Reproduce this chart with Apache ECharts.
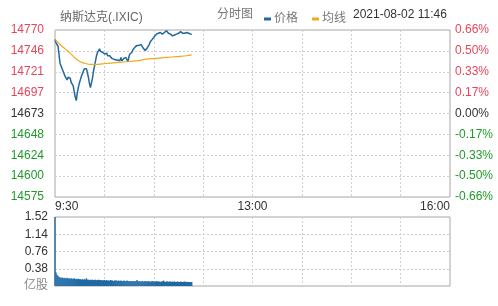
<!DOCTYPE html>
<html><head><meta charset="utf-8">
<script src="https://cdn.jsdelivr.net/npm/echarts@6/dist/echarts.min.js"></script>
<style>html,body{margin:0;padding:0;background:#fff;}#c{width:498px;height:306px;}</style>
</head><body><div id="c"></div>
<script>
// ---- data ----
const basePrice = 14673;
const xTickLabels = ['9:30', '13:00', '16:00'];
const xTickMinutes = [0, 195, 390];
const priceTickLabels = ['14575', '14600', '14624', '14648', '14673', '14697', '14721', '14746', '14770'];
const pctTickLabels = ['-0.66%', '-0.50%', '-0.33%', '-0.17%', '0.00%', '0.17%', '0.33%', '0.50%', '0.66%'];
const volTickLabels = ['亿股', '0.38', '0.76', '1.14', '1.52'];
// price per minute from 9:30
const priceValues = [
14759,14755,14753,14751,14749,14731,14728,14726,14722,14720,
14716,14714,14712,14715,14716,14714,14709,14707,14705,14698,
14692,14688,14697,14703,14708,14712,14716,14718,14722,14725,
14726,14725,14723,14715,14708,14703,14705,14714,14722,14728,
14734,14740,14744,14746,14748,14745,14746,14744,14743,14742,
14741,14743,14740,14738,14740,14740,14737,14739,14736,14738,
14735,14737,14735,14736,14734,14738,14734,14736,14737,14735,
14738,14738,14733,14739,14742,14743,14744,14747,14749,14750,
14751,14752,14753,14752,14751,14753,14752,14749,14747,14746,
14748,14749,14750,14753,14756,14757,14759,14761,14762,14764,
14765,14764,14766,14767,14767,14766,14765,14765,14767,14768,
14769,14767,14766,14765,14765,14764,14763,14763,14764,14765,
14765,14766,14766,14767,14768,14769,14766,14765,14766,14767,
14767,14766,14766,14766,14765,14765
];
const avgMinutes = [0, 5, 10, 15, 20, 25, 30, 35, 40, 50, 60, 70, 80, 90, 100, 110, 120, 130, 135];
const avgValues = [14759, 14753, 14748, 14743, 14737, 14733, 14731, 14730, 14730, 14731, 14732, 14733, 14734, 14736, 14737, 14738, 14739, 14740, 14741];
// volume per minute (亿股)
const volumeValues = [
1.52,0.30,0.25,0.22,0.20,0.19,0.18,0.19,0.17,0.18,
0.17,0.17,0.18,0.16,0.17,0.16,0.17,0.16,0.16,0.17,
0.15,0.16,0.15,0.16,0.15,0.15,0.14,0.15,0.14,0.15,
0.14,0.17,0.14,0.14,0.13,0.14,0.13,0.14,0.13,0.13,
0.14,0.13,0.13,0.14,0.13,0.13,0.13,0.12,0.13,0.13,
0.12,0.13,0.12,0.12,0.12,0.13,0.12,0.12,0.11,0.12,
0.12,0.12,0.11,0.12,0.11,0.12,0.11,0.11,0.12,0.11,
0.11,0.12,0.11,0.11,0.10,0.11,0.11,0.10,0.11,0.10,
0.11,0.13,0.10,0.11,0.10,0.10,0.11,0.10,0.10,0.11,
0.10,0.10,0.11,0.10,0.10,0.10,0.11,0.10,0.10,0.10,
0.11,0.10,0.10,0.10,0.09,0.10,0.10,0.12,0.10,0.09,
0.10,0.10,0.09,0.10,0.10,0.09,0.10,0.09,0.10,0.09,
0.09,0.10,0.09,0.09,0.10,0.09,0.09,0.09,0.10,0.09,
0.09,0.09,0.09,0.09,0.08,0.09
];

// ---- chart ----
const FONT = '"Liberation Sans", Arial, "Noto Sans CJK SC", sans-serif';
const RED = '#e8455a', GREEN = '#1f9a2a', DARK = '#333';
const toPct = p => (p - basePrice) / basePrice * 100;
const pctIdx = v => Math.round((v + 0.66) / 0.165);

const chart = echarts.init(document.getElementById('c'), null, {renderer: 'canvas'});
const splitDash = {show: true, lineStyle: {color: '#d0d0d0', type: [2, 2], width: 1}};
const richMain = {
  up: {color: RED, fontSize: 12, fontFamily: FONT},
  dn: {color: GREEN, fontSize: 12, fontFamily: FONT},
  eq: {color: DARK, fontSize: 12, fontFamily: FONT}
};
const cls = i => i > 4 ? 'up' : (i < 4 ? 'dn' : 'eq');

chart.setOption({
  animation: false,
  textStyle: {fontFamily: FONT},
  title: {
    text: '纳斯达克(.IXIC)', left: 55, top: 7,
    textStyle: {fontSize: 12, fontWeight: 'normal', color: '#666', fontFamily: FONT}
  },
  legend: {
    data: ['价格', '均线'], left: 259, top: 8,
    icon: 'rect', itemWidth: 7, itemHeight: 3, itemGap: 14,
    textStyle: {fontSize: 12, color: '#777', fontFamily: FONT, padding: [0, 0, 0, -2]}
  },
  graphic: [
    {type: 'text', left: 217, top: 9, style: {text: '分时图', fill: '#777', font: '12px ' + FONT}},
    {type: 'text', left: 353, top: 9, style: {text: '2021-08-02 11:46', fill: '#333', font: '12px ' + FONT}}
  ],
  grid: [
    {left: 55, right: 48, top: 30, height: 167, show: true, borderColor: '#a8a8a8', borderWidth: 1, backgroundColor: 'transparent'},
    {left: 55, right: 48, top: 217, height: 69, show: true, borderColor: '#a8a8a8', borderWidth: 1, backgroundColor: 'transparent'}
  ],
  xAxis: [
    {
      type: 'value', gridIndex: 0, min: 0, max: 390, interval: 48.75,
      axisLine: {show: false}, axisTick: {show: false}, splitLine: splitDash,
      axisLabel: {
        show: true, margin: 4, color: DARK, fontSize: 12, fontFamily: FONT,
        alignMinLabel: 'left', alignMaxLabel: 'right',
        formatter: v => { const k = xTickMinutes.indexOf(Math.round(v)); return k >= 0 ? xTickLabels[k] : ''; }
      }
    },
    {
      type: 'value', gridIndex: 1, min: 0, max: 390, interval: 48.75,
      axisLine: {show: false}, axisTick: {show: false}, splitLine: splitDash,
      axisLabel: {show: false}
    }
  ],
  yAxis: [
    {
      type: 'value', gridIndex: 0, position: 'left', min: -0.66, max: 0.66, interval: 0.165,
      axisLine: {show: false}, axisTick: {show: false}, splitLine: splitDash,
      axisLabel: {margin: 11, rich: richMain, formatter: v => { const i = pctIdx(v); return '{' + cls(i) + '|' + priceTickLabels[i] + '}'; }}
    },
    {
      type: 'value', gridIndex: 0, position: 'right', min: -0.66, max: 0.66, interval: 0.165,
      axisLine: {show: false}, axisTick: {show: false}, splitLine: {show: false},
      axisLabel: {margin: 5, rich: richMain, formatter: v => { const i = pctIdx(v); return '{' + cls(i) + '|' + pctTickLabels[i] + '}'; }}
    },
    {
      type: 'value', gridIndex: 1, min: 0, max: 1.52, interval: 0.38,
      axisLine: {show: false}, axisTick: {show: false}, splitLine: splitDash,
      axisLabel: {
        margin: 7,
        rich: {u: {color: '#888', fontSize: 12, fontFamily: FONT}, n: {color: DARK, fontSize: 12, fontFamily: FONT}},
        formatter: v => { const i = Math.round(v / 0.38); return i === 0 ? '{u|' + volTickLabels[0] + '}' : '{n|' + volTickLabels[i] + '}'; }
      }
    }
  ],
  series: [
    {
      name: '价格', type: 'line', xAxisIndex: 0, yAxisIndex: 0, symbol: 'none',
      lineStyle: {color: '#2068a0', width: 1.5}, itemStyle: {color: '#2068a0'},
      data: priceValues.map((p, i) => [i, toPct(p)])
    },
    {
      name: '均线', type: 'line', xAxisIndex: 0, yAxisIndex: 0, symbol: 'none', smooth: 0.3,
      lineStyle: {color: '#f2a81d', width: 1.2}, itemStyle: {color: '#f2a81d'},
      data: avgMinutes.map((m, i) => [m, toPct(avgValues[i])])
    },
    {
      name: '成交量', type: 'bar', xAxisIndex: 1, yAxisIndex: 2, barWidth: 1.4,
      itemStyle: {color: '#1f6aa3'},
      data: volumeValues.map((v, i) => [i, v])
    }
  ]
});
</script></body></html>
